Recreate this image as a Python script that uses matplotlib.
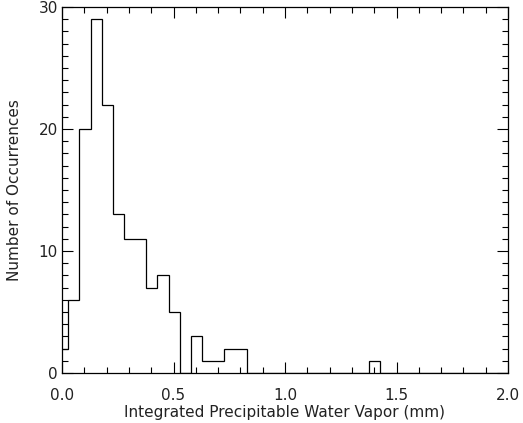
import numpy as np
import matplotlib
matplotlib.use('Agg')
import matplotlib.pyplot as plt
from matplotlib.ticker import MultipleLocator, FormatStrFormatter

# Гистограмма: число случаев в каждом бине
bin_start = -0.022
bin_width = 0.05
counts = [2, 6, 20, 29, 22, 13, 11, 11, 7, 8, 5, 0, 3, 1, 1, 2, 2,
          0, 0, 0, 0, 0, 0, 0, 0, 0, 0, 0, 1, 0, 0, 0, 0, 0, 0, 0,
          0, 0, 0, 0, 0]
edges = bin_start + bin_width * np.arange(len(counts) + 1)

plt.rcParams['font.family'] = 'DejaVu Sans'
plt.rcParams['font.size'] = 11
text_color = '#222222'

fig = plt.figure(figsize=(5.23, 4.23), dpi=100)
ax = fig.add_axes([62 / 523, 50 / 423, 446 / 523, 366 / 423])

ax.stairs(counts, edges, color='black', linewidth=0.9, baseline=0)

ax.set_xlim(0, 2.0)
ax.set_ylim(0, 30)
ax.xaxis.set_major_locator(MultipleLocator(0.5))
ax.xaxis.set_minor_locator(MultipleLocator(0.1))
ax.xaxis.set_major_formatter(FormatStrFormatter('%.1f'))
ax.yaxis.set_major_locator(MultipleLocator(10))
ax.yaxis.set_minor_locator(MultipleLocator(1))

ax.tick_params(which='both', direction='in', top=True, right=True, width=0.8,
               labelcolor=text_color)
ax.tick_params(which='major', length=8)
ax.tick_params(which='minor', length=4)
ax.tick_params(axis='x', which='major', pad=11)
ax.tick_params(axis='y', which='major', pad=3)
for s in ax.spines.values():
    s.set_linewidth(0.9)

ax.set_xlabel('Integrated Precipitable Water Vapor (mm)', labelpad=1, color=text_color)
ax.set_ylabel('Number of Occurrences', labelpad=12, color=text_color)

fig.savefig('out.png', dpi=100)
